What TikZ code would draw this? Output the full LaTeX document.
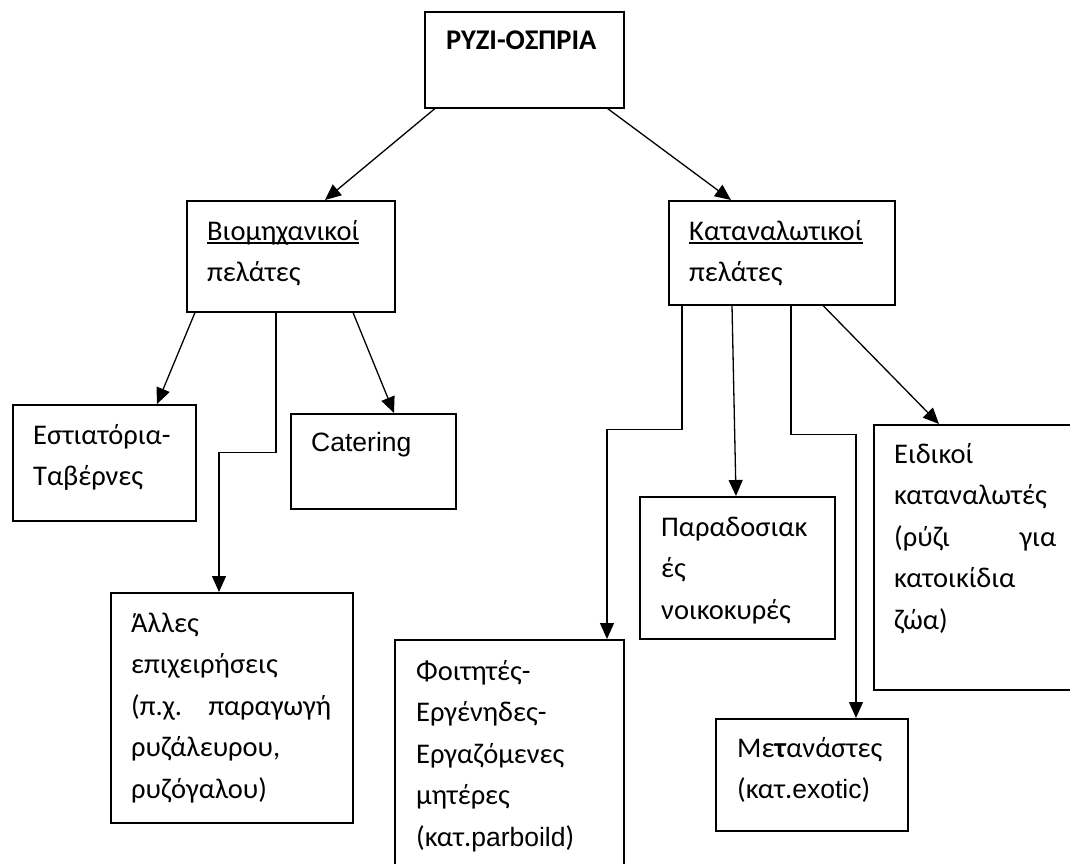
\documentclass[tikz,border=0pt]{standalone}
\usepackage{fontspec}
\setmainfont{Carlito}
\newfontfamily\latinfont[Scale=0.93]{Liberation Sans}
\usetikzlibrary{positioning,arrows.meta}

\newcommand{\ulword}[1]{\setbox0\hbox{#1}\rlap{\rule[-3.5pt]{\wd0}{1.4pt}}\box0}

\tikzset{
  box/.style={draw, line width=1.5pt, anchor=north west, inner sep=0pt},
  txt/.style={anchor=base west, inner sep=0pt, align=left, font=\fontsize{28.5}{41.5}\selectfont},
  arr/.style={line width=1.3pt, -{Triangle[length=16pt,width=14pt]}}
}

\begin{document}
\begin{tikzpicture}[x=1pt,y=-1pt]

\clip (0,0) rectangle (1070,863);

% boxes
\node[box, minimum width=199, minimum height=96] (rice) at (424,11) {};
\node[box, minimum width=208, minimum height=111] (ind) at (186,200) {};
\node[box, minimum width=226, minimum height=104] (cons) at (668,200) {};
\node[box, minimum width=183, minimum height=116] (rest) at (12,404) {};
\node[box, minimum width=165, minimum height=95] (cat) at (290,413) {};
\node[box, minimum width=242, minimum height=230] (other) at (110,592) {};
\node[box, minimum width=229, minimum height=300] (stud) at (394,639) {};
\node[box, minimum width=195, minimum height=142] (trad) at (639,496) {};
\node[box, minimum width=250, minimum height=265] (spec) at (873,424) {};
\node[box, minimum width=192, minimum height=112] (migr) at (715,718) {};

% texts
\node[txt, text width=180, font=\fontsize{28.5}{41.5}\selectfont\bfseries] (rice-t) at (446,49) {ΡΥΖΙ-ΟΣΠΡΙΑ};
\node[txt, text width=180] (ind-t) at (207,240) {\ulword{Βιομηχανικοί}\\πελάτες};
\node[txt, text width=200] (cons-t) at (689,240) {\ulword{Καταναλωτικοί}\\πελάτες};
\node[txt, text width=160] (rest-t) at (33,444) {Εστιατόρια-\\Ταβέρνες};
\node[txt, text width=140] (cat-t) at (311,451) {\latinfont Catering};
\node[txt, text width=200] (other-t) at (131,632) {Άλλες\\επιχειρήσεις\\(π.χ.\hfill παραγωγή\\ρυζάλευρου,\\ρυζόγαλου)};
\node[txt, text width=200] (stud-t) at (416,680) {Φοιτητές-\\Εργένηδες-\\Εργαζόμενες\\μητέρες\\(κατ.{\latinfont parboild})};
\node[txt, text width=180] (trad-t) at (661,536) {Παραδοσιακ\\ές\\νοικοκυρές};
\node[txt, text width=162] (spec-t) at (894,463) {Ειδικοί\\καταναλωτές\\(ρύζι\hfill για\\κατοικίδια\\ζώα)};
\node[txt, text width=170] (migr-t) at (737,757) {Με\textbf{τ}ανάστες\\(κατ.{\latinfont exotic})};

% arrows
\draw[arr] ([xshift=11]rice.south west) -- ([xshift=139]ind.north west);
\draw[arr] ([xshift=-17]rice.south east) -- ([xshift=63]cons.north west);

\draw[arr] ([xshift=9]ind.south west) -- ([xshift=145]rest.north west);
\draw[arr] ([xshift=90]ind.south west) -- ++(0,140) -| ([xshift=109]other.north west);
\draw[arr] ([xshift=167]ind.south west) -- ([xshift=104]cat.north west);

\draw[arr] ([xshift=14]cons.south west) -- ++(0,124) -| ([xshift=213]stud.north west);
\draw[arr] ([xshift=64]cons.south west) -- ([xshift=97]trad.north west);
\draw[arr] ([xshift=123]cons.south west) -- ++(0,129) -| ([xshift=141]migr.north west);
\draw[arr] ([xshift=155]cons.south west) -- ([xshift=66]spec.north west);

\end{tikzpicture}
\end{document}
